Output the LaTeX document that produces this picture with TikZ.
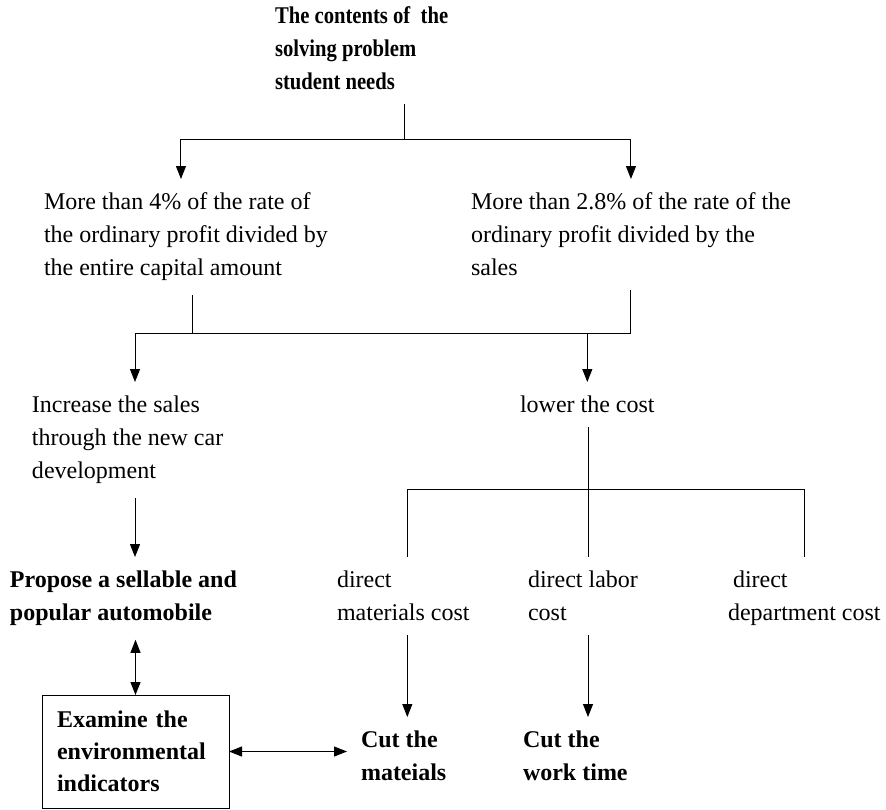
\documentclass[tikz,border=0pt]{standalone}
\usepackage{fontspec}
\setmainfont{Liberation Serif}
\usetikzlibrary{arrows.meta}

\begin{document}
\begin{tikzpicture}[>={Triangle[length=6.5pt,width=5pt]}, x=0.5pt, y=-0.5pt, line width=0.5pt,
    txt/.style={anchor=north west, align=left, inner sep=0pt, outer sep=7pt,
        font=\fontsize{12}{16.5}\selectfont},
    bld/.style={txt, font=\fontsize{12}{16.5}\selectfont\bfseries}]
    \useasboundingbox (0,0) rectangle (886,809);
    % 问题内容
    \node[bld, xscale=0.86, transform shape] (title) at (263,-7) {The contents of\ \ the\\solving problem\\student needs};
    % 两个利润率目标
    \node[txt] (lp) at (30,179) {More than 4\% of the rate of\\the ordinary profit divided by\\the entire capital amount};
    \node[txt] (rp) at (457,179) {More than 2.8\% of the rate of the\\ordinary profit divided by the\\sales};
    % 两条途径
    \node[txt] (sales) at (18,382) {Increase the sales\\through the new car\\development};
    \node[txt] (lower) at (506,382) {lower the cost};
    % 第三层
    \node[bld] (propose) at (-4,557) {Propose a sellable and\\popular automobile};
    \node[txt] (mat) at (323,557) {direct\\materials cost};
    \node[txt] (labor) at (514,557) {direct labor\\cost};
    \node[txt] (dept) at (714,557) {\hspace*{2.5pt}direct\\department cost};
    % 方框与措施
    \node[draw, anchor=north west, inner xsep=7.5pt, inner ysep=0pt, outer sep=0pt,
        minimum width=93.5pt, minimum height=56.5pt, text width=78.5pt, align=left,
        font=\fontsize{12}{16}\selectfont\bfseries] (box) at (42,695)
        {Examine the\\environmental\\indicators};
    \node[bld] (cutm) at (347,717) {Cut the\\mateials};
    \node[bld] (cutw) at (509,717) {Cut the\\work time};
    % 分支点
    \coordinate (top) at (404,139);
    \coordinate (mid) at (135,333);
    \coordinate (low) at (588,489);
    % 连线
    \draw (title.south -| top) -- (top);
    \draw[->] (top) -| ([xshift=-2.5pt]lp.north);
    \draw[->] (top) -| (rp.north);
    \draw[->] ([xshift=3.5pt]lp.south) |- (mid) -- (mid |- sales.north);
    \draw ([xshift=3.5pt]lp.south |- mid) -- (rp.south |- mid) -- (rp.south);
    \draw[->] (lower.north |- mid) -- (lower.north);
    \draw (lower.south -| low) -- (low);
    \draw ([xshift=2pt]mat.north |- low) -- (dept.north |- low);
    \draw ([xshift=2pt]mat.north |- low) -- ([xshift=2pt]mat.north);
    \draw (low) -- (low |- labor.north);
    \draw (dept.north |- low) -- (dept.north);
    \draw[->] (sales.south -| mid) -- (mid |- propose.north);
    \draw[->] ([xshift=2pt]mat.south) -- ([xshift=2pt]mat.south |- cutm.north);
    \draw[->] (labor.south -| low) -- (low |- cutw.north);
    \draw[<->] (box.north) -- (box.north |- propose.south);
    \draw[<->] (box.east) -- (cutm.west |- box.east);
\end{tikzpicture}
\end{document}
